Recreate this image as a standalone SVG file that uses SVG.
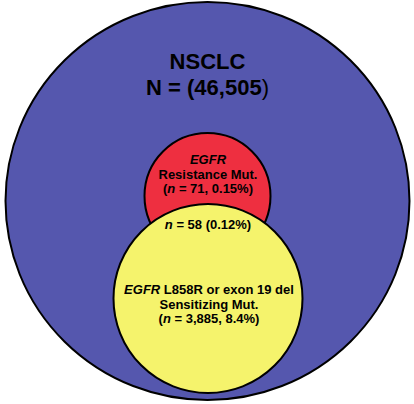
<svg xmlns="http://www.w3.org/2000/svg" width="414" height="404" viewBox="0 0 414 404">
<style>
.c{stroke:#000;stroke-width:2}
text{font-family:"Liberation Sans",Arial,sans-serif;font-weight:bold;fill:#000;text-anchor:middle}
.t{font-size:22px}
.s{font-size:13px}
.i{font-style:italic}
</style>
<rect width="414" height="404" fill="#fff"/>
<g id="nsclc">
<ellipse class="c" cx="207.5" cy="201" rx="202" ry="199" fill="#5557AE"/>
<text class="t" x="207.5" y="69">NSCLC</text>
<text class="t" x="207.5" y="95">N = (46,505<tspan font-weight="normal">)</tspan></text>
</g>
<g id="resistance">
<circle class="c" cx="207.5" cy="196" r="63" fill="#EE2F40"/>
<text class="s" x="208" y="164"><tspan class="i">EGFR</tspan></text>
<text class="s" x="208" y="178.5">Resistance Mut.</text>
<text class="s" x="208" y="193">(<tspan class="i">n</tspan> = 71, 0.15%)</text>
</g>
<g id="sensitizing">
<circle class="c" cx="208" cy="298.5" r="94.5" fill="#F5F36C"/>
<text class="s" x="208" y="229"><tspan class="i">n</tspan> = 58 (0.12%)</text>
<text class="s" x="209" y="294"><tspan class="i">EGFR</tspan> L858R or exon 19 del</text>
<text class="s" x="209" y="308.5">Sensitizing Mut.</text>
<text class="s" x="209" y="323">(<tspan class="i">n</tspan> = 3,885, 8.4%)</text>
</g>
<g id="connectors"/>
</svg>
